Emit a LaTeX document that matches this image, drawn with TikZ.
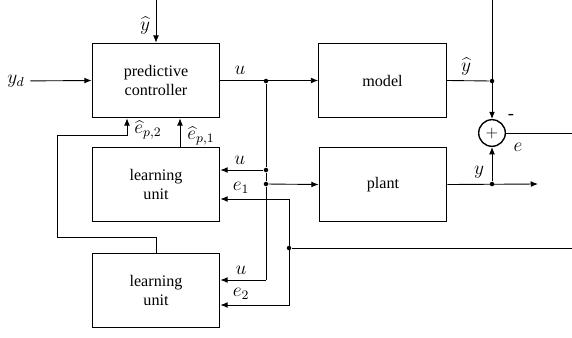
\documentclass[tikz,border=0pt]{standalone}
\usepackage{fontspec}
\setmainfont{Liberation Serif}
\usetikzlibrary{arrows.meta}

\begin{document}
\begin{tikzpicture}[x=0.62pt,y=-0.62pt,>={Latex[length=4.5pt,width=3.6pt]},
        line width=0.55pt,
        block/.style={draw,line width=0.85pt,minimum width=79pt,minimum height=46pt,align=center},
        junc/.style={circle,fill,inner sep=0pt,minimum size=2.8pt},
        sig/.style={font=\fontsize{11.5}{13}\selectfont},
        sumnode/.style={circle,draw,line width=0.85pt,minimum size=16.5pt,inner sep=0pt}]
        \useasboundingbox (0,0) rectangle (572,337);
        % blocks
        \node[block] at (156,80.5)  (ctrl)   {predictive\\controller};
        \node[block] at (382.5,80.5) (model) {model};
        \node[block] at (383,184.5) (plant)  {plant};
        \node[block] at (156,184.5) (learn1) {learning\\unit};
        \node[block] at (156,290.5) (learn2) {learning\\unit};
        \node[sumnode] at (492,133) (sum)    {$+$};
        % junctions and free ends
        \node[junc] at (266,81)  (ju)   {};
        \node[junc] at (266,170) (ju1)  {};
        \node[junc] at (266,184) (jup)  {};
        \node[junc] at (492,81)  (jyh)  {};
        \node[junc] at (492,184) (jy)   {};
        \node[junc] at (289,248) (je)   {};
        \node[sig] at (16,81) (yd) {$y_d$};
        \coordinate (yhin)  at (156,0);
        \coordinate (top)   at (492,0);
        \coordinate (u2)    at (266,280);
        \coordinate (yout)  at (538,184);
        \coordinate (eout)  at (572,133);
        \coordinate (ein)   at (572,248);
        \coordinate (e1)    at (289,199);
        \coordinate (e2)    at (289,305);
        \coordinate (p1)    at (180,147);
        \coordinate (bend1) at (57,237);
        \coordinate (bend2) at (127,135);

        % signals
        \draw[->] (yd) -- (ctrl.west);
        \draw[->] (yhin) -- node[sig,left,pos=0.6] {$\widehat{y}$} (ctrl.north);
        \draw[->] (ctrl.east) -- node[sig,above,pos=0.2] {$u$} (model.west);
        \draw (ju) -- (ju1) -- (jup) -- (u2);
        \draw[->] (ju1) -- node[sig,above,pos=0.55] {$u$} (ju1 -| learn1.east);
        \draw[->] (jup) -- (plant.west);
        \draw[->] (u2) -- node[sig,above,pos=0.55] {$u$} (u2 -| learn2.east);
        \draw (model.east) -- node[sig,above,pos=0.45] {$\widehat{y}$} (jyh);
        \draw[->] (top) -- (sum.north);
        \draw[->] (plant.east) -- node[sig,above,pos=0.35] {$y$} (yout);
        \draw[->] (jy) -- (sum.south);
        \draw (sum.east) -- (eout);
        \node[sig] at (511,117) {-};
        \node[sig] at (518,147) {$e$};
        \draw (ein) -- (je);
        \draw[<->] (e1 -| learn1.east) -- node[sig,above,pos=0.3] {$e_1$} (e1) -- (e2)
            -- node[sig,above,pos=0.7] {$e_2$} (e2 -| learn2.east);
        \draw[->] (p1) -- node[sig,right,xshift=1pt,yshift=-2pt] {$\widehat{e}_{p,1}$} (p1 |- ctrl.south);
        \draw[->] (learn2.north) |- (bend1) |- (bend2)
            -- node[sig,right,xshift=1pt,yshift=-2pt] {$\widehat{e}_{p,2}$} (bend2 |- ctrl.south);
\end{tikzpicture}
\end{document}
